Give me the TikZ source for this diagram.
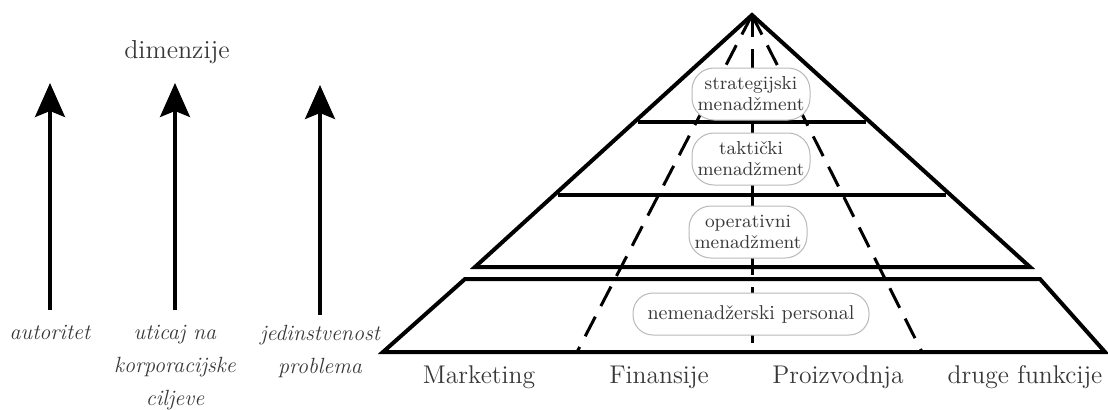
\documentclass[tikz,border=0pt]{standalone}
\usepackage{tikz}
\usetikzlibrary{arrows.meta,positioning}

\definecolor{txtgray}{gray}{0.22}

\tikzset{
    dim/.style={line width=1.6pt, -{Stealth[length=17pt, width=15pt, inset=3pt]}},
    wall/.style={line width=2pt, line join=miter},
    split/.style={line width=1.5pt, dash pattern=on 11pt off 6pt},
    level/.style={draw=gray!55, fill=white, line width=0.5pt, rounded corners=11pt,
        minimum width=59pt, minimum height=26pt, inner sep=1pt, align=center,
        text=txtgray, font=\fontsize{9.4}{10.5}\selectfont},
    lbl/.style={text=txtgray, align=center, font=\fontsize{11}{16.5}\selectfont\itshape},
    func/.style={text=txtgray, font=\fontsize{12.8}{15}\selectfont}
}

\begin{document}
\begin{tikzpicture}[x=0.5pt, y=0.5pt]
    \useasboundingbox (0,0) rectangle (1108,-409);

    % Dimensions on the left
    \node[text=txtgray, font=\fontsize{13}{15}\selectfont] (dimenzije) at (177,-52) {dimenzije};

    \coordinate (autBot) at (50,-310);
    \coordinate (autTop) at (50,-83);
    \coordinate (utiBot) at (175,-310);
    \coordinate (utiTop) at (175,-83);
    \coordinate (jedBot) at (320,-315);
    \coordinate (jedTop) at (320,-85);

    \draw[dim] (autBot) -- (autTop);
    \draw[dim] (utiBot) -- (utiTop);
    \draw[dim] (jedBot) -- (jedTop);

    \node[lbl, below=4pt of autBot] (autoritet) {autoritet};
    \node[lbl, below=4pt of utiBot] (uticaj) {uticaj na\\korporacijske\\ciljeve};
    \node[lbl, below=1.5pt of jedBot] (jedinstvenost) {jedinstvenost\\problema};

    % Pyramid corners
    \coordinate (apex) at (752,-15);
    \coordinate (baseL) at (383,-352);
    \coordinate (baseR) at (1105,-352);

    % Functional splits from the apex down to the base
    \draw[split] (apex) -- (577,-352);
    \draw[split] (apex) -- (752,-352);
    \draw[split] (apex) -- (922,-352);

    % Management levels
    \draw[wall] (apex) -- (475,-267) -- (1030,-267) -- cycle;
    \draw[wall] (638,-122) -- (866,-122);
    \draw[wall] (558,-195) -- (946,-195);

    % Non-management layer
    \draw[wall] (465,-279) -- (1040,-279) -- (baseR) -- (baseL) -- cycle;

    \node[level] (strategic) at (751,-94) {strategijski\\menadžment};
    \node[level] (tactical) at (751,-159) {taktički\\menadžment};
    \node[level] (operative) at (748,-232) {operativni\\menadžment};
    \node[level, minimum width=118pt, minimum height=21pt, rounded corners=10pt,
        font=\normalsize] (staff) at (751,-314) {nemenadžerski personal};

    % Business functions along the base
    \node[func] (marketing) at (479,-377) {Marketing};
    \node[func] (finansije) at (659,-377) {Finansije};
    \node[func] (proizvodnja) at (838,-377) {Proizvodnja};
    \node[func] (druge) at (1025,-377) {druge funkcije};

\end{tikzpicture}
\end{document}
